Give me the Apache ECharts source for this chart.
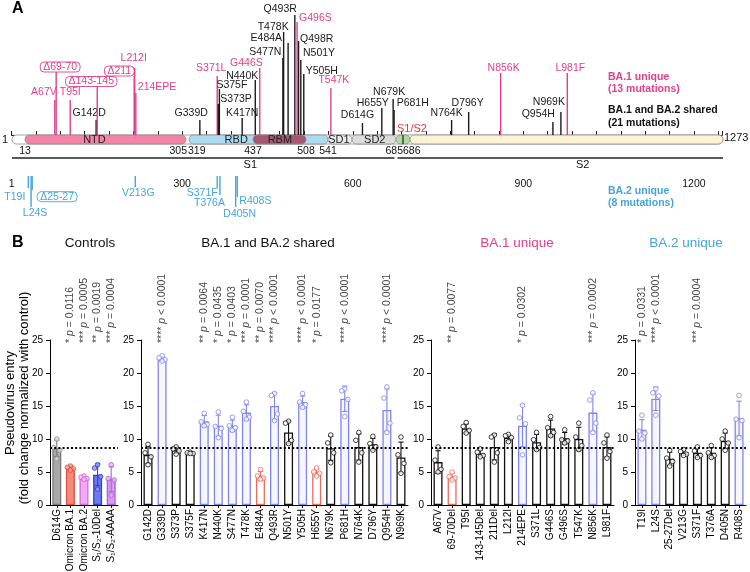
<!DOCTYPE html>
<html>
<head>
<meta charset="utf-8">
<title>Omicron spike mutations and pseudovirus entry</title>
<script src="https://cdn.jsdelivr.net/npm/echarts@6/dist/echarts.min.js"></script>
<style>
html,body{margin:0;padding:0;background:#fff;}
#chart{width:750px;height:572px;}
</style>
</head>
<body>
<div id="chart"></div>
<script>
// ================= DATA: Panel A (spike schematic) =================
const proteinLength = 1273;
const topMutNames = ['A67V','Δ69-70','T95I','G142D','Δ143-145','Δ211','L212I','214EPE','G339D','S371L','S373P','S375F','K417N','N440K','G446S','S477N','T478K','E484A','Q493R','G496S','Q498R','N501Y','Y505H','T547K','D614G','H655Y','N679K','P681H','N764K','D796Y','N856K','Q954H','N969K','L981F'];
const topMutResidue = [67,69.5,95,142,144,211,212,214,339,371,373,375,417,440,446,477,478,484,493,496,498,501,505,547,614,655,679,681,764,796,856,954,969,981];
const topMutGroup = ['BA1','BA1','BA1','shared','BA1','BA1','BA1','BA1','shared','BA1','shared','shared','shared','shared','BA1','shared','shared','shared','shared','BA1','shared','shared','shared','BA1','shared','shared','shared','shared','shared','shared','BA1','shared','shared','BA1'];
const ba2MutNames = ['T19I','L24S','Δ25-27','V213G','S371F','T376A','D405N','R408S'];
const ba2MutResidue = [19,24,26,213,371,376,405,408];
const domainNames = ['NTD','RBD','SD1','SD2','','','RBM'];
const domainStart = [13,319,541,592,685,686,437];
const domainEnd   = [305,541,592,685,686,1273,508];
const boundaryRes  = [13,305,319,437,508,541,685.5];
const boundaryText = ['13','305','319','437','508','541','685686'];
const subunitNames = ['S1','S2'];
const subunitStart = [1,685];
const subunitEnd   = [685,1273];
const rulerTickValues = [0,300,600,900,1200];
const rulerTickLabels = ['1','300','600','900','1200'];
const legendA = [['BA.1 unique','(13 mutations)'],['BA.1 and BA.2 shared','(21 mutations)'],['BA.2 unique','(8 mutations)']];

// ================= DATA: Panel B (pseudovirus entry) =================
const refLine = 8.6;
const ctrlCats = ['D614G','Omicron BA.1','Omicron BA.2','S₁/S₂-10Del','S₁/S₂-AAAA'];
const ctrlMean = [8.6,5.6,4.1,4.6,3.9];
const ctrlPoints = [[10.0,8.7,8.3,7.0],[5.9,5.7,5.5,5.3],[4.4,4.2,4.0,3.9],[6.1,5.6,4.3,2.4],[6.1,4.0,3.8,1.5]];
const ctrlP = ['','* p = 0.0116','*** p = 0.0005','** p = 0.0019','*** p = 0.0004'];

const sharedCats = ['G142D','G339D','S373P','S375F','K417N','N440K','S477N','T478K','E484A','Q493R','N501Y','Y505H','H655Y','N679K','P681H','N764K','D796Y','Q954H','N969K'];
const sharedType = ['k','b','k','k','b','b','b','b','r','b','k','b','r','k','b','k','k','b','k'];
const sharedMean = [7.6,22.1,8.3,7.9,12.7,12.0,12.0,14.0,4.4,15.0,11.0,15.6,5.0,8.6,16.1,8.8,9.2,14.4,7.2];
const sharedPoints = [[9.2,7.9,7.3,6.1],[22.6,22.3,22.0,21.8],[8.8,8.5,8.2,7.7],[8.0,7.9,7.8,7.8],[13.9,12.6,12.2,12.0],[14.1,11.9,11.6,10.2],[13.3,12.0,11.7,11.3],[15.6,14.2,13.3,13.0],[5.4,4.4,4.1,3.9],[16.9,16.6,13.8,12.8],[12.7,12.4,9.8,9.3],[16.9,15.6,15.2,14.8],[5.6,5.0,4.8,4.4],[10.6,9.4,7.9,6.4],[17.6,17.3,16.0,13.4],[11.0,9.8,7.9,6.5],[10.4,9.3,8.8,8.3],[17.9,16.2,12.4,11.0],[10.3,7.6,6.3,4.8]];
const sharedP = ['','**** p < 0.0001','','','** p = 0.0064','* p = 0.0435','* p = 0.0403','*** p = 0.0001','** p = 0.0070','**** p < 0.0001','','**** p < 0.0001','* p = 0.0177','','**** p < 0.0001','','','**** p < 0.0001',''];

const ba1Cats = ['A67V','69-70Del','T95I','143-145Del','211Del','L212I','214EPE','S371L','G446S','G496S','T547K','N856K','L981F'];
const ba1Type = ['k','r','k','k','k','k','b','k','k','k','k','b','k'];
const ba1Mean = [6.5,4.3,11.6,7.8,8.8,10.2,12.0,9.5,11.6,10.1,10.0,14.0,8.8];
const ba1Points = [[8.8,6.8,5.4,5.0],[5.0,4.3,4.1,3.8],[12.5,11.9,11.3,10.9],[8.5,8.0,7.5,7.3],[10.6,10.3,7.9,6.5],[10.7,10.5,10.2,9.6],[15.1,13.2,12.3,7.6],[11.0,9.9,8.7,8.4],[13.4,11.7,11.0,10.5],[11.4,9.9,9.7,9.4],[12.4,10.3,9.0,8.4],[17.0,15.9,12.4,11.0],[10.6,9.4,8.1,7.1]];
const ba1P = ['','** p = 0.0077','','','','','* p = 0.0302','','','','','*** p = 0.0002',''];

const ba2Cats = ['T19I','L24S','25-27Del','V213G','S371F','T376A','D405N','R408S'];
const ba2Type = ['b','b','k','k','k','k','k','b'];
const ba2Mean = [11.4,16.1,7.0,7.9,7.9,7.9,9.7,13.1];
const ba2Points = [[13.6,11.2,10.9,10.0],[17.6,17.0,16.5,13.6],[8.3,7.1,6.6,5.9],[8.4,8.1,7.7,7.5],[8.8,8.2,7.5,7.2],[9.0,7.9,7.5,7.2],[11.2,10.0,9.4,8.3],[16.6,13.0,12.8,10.2]];
const ba2P = ['* p = 0.0331','**** p < 0.0001','','','*** p = 0.0004','','',''];

const panelTitles = ['Controls','BA.1 and BA.2 shared','BA.1 unique','BA.2 unique'];

// ================= LAYOUT / STYLE (not data) =================
const FONT = '"Liberation Sans", Arial, Helvetica, sans-serif';
const PINK = '#E2408B', BLUE = '#45A5DC', RED = '#E8363B', BLACK = '#1a1a1a';
// schematic (non-linear) placement of residues along the ruler axis
const anchorRes = [1,13,305,319,437,508,541,685,686,1273];
const anchorPos = [0.7,23.6,306.7,312.0,424.6,517.8,556.5,676.0,700.7,1251.1];
function schem(r){
  for (let i = 0; i < anchorRes.length - 1; i++) {
    if (r <= anchorRes[i+1]) {
      const t = (r - anchorRes[i]) / (anchorRes[i+1] - anchorRes[i]);
      return anchorPos[i] + t * (anchorPos[i+1] - anchorPos[i]);
    }
  }
  return anchorPos[anchorPos.length-1];
}
const domainFill = ['#F384A8','#AEDAF0','#EDEDED','#DCDCDC','#AFDBA3','#FCF2D4','#A65872'];
const domainLabelAt = [139,406,564,640,null,null,473];
const boundaryAlign = ['center','right','left','center','center','center','center'];
const subunitLabelAt = [432,1010];
const topStem = [35,63,35,15,49,59,67,42,15,59,31,46,17,55,67,77,103,92,120,113,94,75,61,47,12,27,36,25,15,23,62,13,23,62];
const topLabelAlign = ['right','center','center','center','center','right','center','left','right','center','left','left','center','right','right','right','right','right','right','left','left','left','left','center','center','center','center','left','center','center','center','right','right','center'];
const topLabelDx = [2,4,0,-7,-6,0,-1,2,8,-6,2,-3,0,3,3,-1.5,5,-6,2,2,1.5,2.2,2,3,-5,-9,-4,2.6,-5,-1,3,2,4,3];
const topLabelDy = [-8,-5,-8,-7,-4.5,-5,-10,-6,-7,-8,-5,-4,-5,-4,-5,-6,-5,-5,-6,-4,-2,-7,-3,-8,-8,-5,-7,-7,-7,-9,-5,-8,-10,-5];
const ba2Depth = [12,31,14,11,12,19,31,21];
const ba2LabelAlign = ['right','center','left','center','center','right','center','left'];
const ba2LabelDx = [-3,4,5,3,-15,5,4,2];
const ba2LabelDy = [9,6.6,6.7,6,5.3,8.3,7.6,4];
const BAR_H = 9;       // thickness of the protein bar (y units of panel A = px)
const AXIS_V = -41;    // ruler position in panel A y units

const typeStyle = {
  k: {fill:'rgba(255,255,255,0)', line:'#111111', pt:'#ffffff', ptLine:'#111111'},
  b: {fill:'rgba(128,132,235,0.07)', line:'#8085EA', pt:'#ffffff', ptLine:'#8085EA'},
  r: {fill:'rgba(255,255,255,0)', line:'#EE6A5A', pt:'#ffffff', ptLine:'#EE6A5A'}
};
const ctrlStyle = [
  {fill:'#A9A9A9', line:'#7A7A7A', pt:'#DADADA', ptLine:'#8A8A8A'},
  {fill:'#F58A7C', line:'#E0513F', pt:'#F8A296', ptLine:'#D9473A'},
  {fill:'#F2A8F4', line:'#D76ADB', pt:'#F6C0F7', ptLine:'#D35FD9'},
  {fill:'#6D79EF', line:'#3641D2', pt:'#8D97F3', ptLine:'#2E3AD0'},
  {fill:'#D49CF1', line:'#B45FDB', pt:'#E2B8F5', ptLine:'#B35ADB'}
];
const jitter = [0,-3,3,0];
const gridB = [{left:50,width:68},{left:141,width:267},{left:431,width:183},{left:635,width:111}];
const B_TOP = 340, B_H = 165;

// ================= BUILD OPTION =================
const grids = [{left:11.6, width:710.75, top:0, height:176, containLabel:false, outerBoundsMode:'none'}];
const xAxes = [{
  gridIndex:0, type:'value', min:0, max:1250, interval:300/7, position:'bottom',
  axisLine:{show:true, lineStyle:{color:'#222', width:1}},
  axisTick:{show:true, inside:true, length:4, lineStyle:{color:'#222'}},
  axisLabel:{show:true, margin:3, fontSize:10.5, color:'#111', fontFamily:FONT,
    formatter: v => { for (let i=0;i<rulerTickValues.length;i++){ if (Math.abs(v-rulerTickValues[i])<1e-3) return rulerTickLabels[i]; } return ''; }},
  splitLine:{show:false}
}];
const yAxes = [{gridIndex:0, type:'value', min:-41, max:135, show:false}];
const series = [];

const txtFont = (s, w) => (w ? w + ' ' : '') + s + 'px ' + FONT;
function textEl(x, y, text, opts){
  return Object.assign({type:'text', x:x, y:y, style:Object.assign({text:text, fill:'#111', font:txtFont(10.5), align:'center', verticalAlign:'middle'}, opts||{})});
}

// protein backbone + domains
series.push({
  type:'custom', xAxisIndex:0, yAxisIndex:0, z:2, silent:true,
  data: [[schem(1), schem(proteinLength), -1]].concat(domainStart.map((s,i)=>[schem(s), schem(domainEnd[i]), i])),
  renderItem(params, api){
    const a = api.coord([api.value(0), 0]);
    const b = api.coord([api.value(1), -BAR_H]);
    const idx = api.value(2);
    const fill = idx < 0 ? '#ffffff' : domainFill[idx];
    return {type:'rect', shape:{x:a[0], y:a[1], width:b[0]-a[0], height:b[1]-a[1], r:(b[1]-a[1])/2},
      style:{fill:fill, stroke:'#8c8c8c', lineWidth:0.8}};
  }
});
// domain labels
series.push({
  type:'custom', xAxisIndex:0, yAxisIndex:0, z:3, silent:true,
  data: domainNames.map((n,i)=>[domainLabelAt[i]==null?0:schem(domainLabelAt[i]), i]).filter((d,i)=>domainNames[i]),
  renderItem(params, api){
    const p = api.coord([api.value(0), -BAR_H/2]);
    return textEl(p[0], p[1]+0.5, domainNames[api.value(1)], {font:txtFont(11), fill:'#222'});
  }
});
// S1/S2 cleavage mark
series.push({
  type:'custom', xAxisIndex:0, yAxisIndex:0, z:3, silent:true,
  data: [[schem(685.5)]],
  renderItem(params, api){
    const a = api.coord([api.value(0), 0]), b = api.coord([api.value(0), -BAR_H]);
    return {type:'line', shape:{x1:a[0],y1:a[1],x2:b[0],y2:b[1]}, style:{stroke:'#222', lineWidth:1.2}};
  }
});
// boundary numbers
series.push({
  type:'custom', xAxisIndex:0, yAxisIndex:0, z:3, silent:true,
  data: boundaryRes.map((r,i)=>[schem(r), i]),
  renderItem(params, api){
    const i = api.value(1);
    const p = api.coord([api.value(0), -16]);
    const dx = boundaryAlign[i]==='right' ? 1 : boundaryAlign[i]==='left' ? -1 : 0;
    return textEl(p[0]+dx, p[1], boundaryText[i], {align:boundaryAlign[i]});
  }
});
// subunit lines S1 / S2
series.push({
  type:'custom', xAxisIndex:0, yAxisIndex:0, z:3, silent:true,
  data: subunitStart.map((s,i)=>[schem(s), schem(subunitEnd[i]), schem(subunitLabelAt[i]), i]),
  renderItem(params, api){
    const i = api.value(3);
    const a = api.coord([api.value(0), -23]), b = api.coord([api.value(1), -23]);
    const l = api.coord([api.value(2), -29.5]);
    const x1 = i===0 ? a[0] : a[0]+1.5, x2 = i===0 ? b[0]-1.5 : b[0];
    return {type:'group', children:[
      {type:'line', shape:{x1:x1,y1:a[1],x2:x2,y2:b[1]}, style:{stroke:'#222', lineWidth:1.6}},
      textEl(l[0], l[1], subunitNames[i], {font:txtFont(11)})
    ]};
  }
});
// end labels and S1/S2 label
series.push({
  type:'custom', xAxisIndex:0, yAxisIndex:0, z:3, silent:true,
  data: [[schem(1), 0], [schem(proteinLength), 1], [schem(685), 2]],
  renderItem(params, api){
    const k = api.value(1);
    if (k === 0) { const p = api.coord([api.value(0), -BAR_H/2]); return textEl(p[0]-4, p[1], '1', {align:'right', font:txtFont(11)}); }
    if (k === 1) { const p = api.coord([api.value(0), -BAR_H/2+2]); return textEl(p[0]+1, p[1], String(proteinLength), {align:'left', font:txtFont(11)}); }
    const p = api.coord([api.value(0), 5.7]);
    return textEl(p[0]+1, p[1], 'S1/S2', {align:'left', fill:RED, font:txtFont(11)});
  }
});
// BA.1 unique + shared mutations (above the bar)
series.push({
  type:'custom', xAxisIndex:0, yAxisIndex:0, z:4, silent:true,
  data: topMutResidue.map((r,i)=>[schem(r), topStem[i], i]),
  renderItem(params, api){
    const i = api.value(2);
    const base = api.coord([api.value(0), 0]);
    const top = api.coord([api.value(0), api.value(1)]);
    const col = topMutGroup[i]==='BA1' ? PINK : BLACK;
    const boxed = topMutNames[i].charAt(0)==='Δ';
    const extra = boxed ? {borderColor:col, borderWidth:0.9, borderRadius:4, padding:[0,3,0,3], lineHeight:10} : {};
    return {type:'group', children:[
      {type:'line', shape:{x1:base[0], y1:base[1], x2:top[0], y2:top[1]}, style:{stroke:col, lineWidth:1.4}},
      textEl(top[0]+topLabelDx[i], top[1]+topLabelDy[i], topMutNames[i], Object.assign({fill:col, align:topLabelAlign[i]}, extra))
    ]};
  }
});
// BA.2 unique mutations (below the ruler)
series.push({
  type:'custom', xAxisIndex:0, yAxisIndex:0, z:4, silent:true,
  data: ba2MutResidue.map((r,i)=>[schem(r), ba2Depth[i], i]),
  renderItem(params, api){
    const i = api.value(2);
    const base = api.coord([api.value(0), AXIS_V]);
    const end = api.coord([api.value(0), AXIS_V - api.value(1)]);
    const boxed = ba2MutNames[i].charAt(0)==='Δ';
    const extra = boxed ? {borderColor:BLUE, borderWidth:0.9, borderRadius:4, padding:[0,3,0,3], lineHeight:10} : {};
    return {type:'group', children:[
      {type:'line', shape:{x1:base[0], y1:base[1], x2:end[0], y2:end[1]}, style:{stroke:BLUE, lineWidth:1.4}},
      textEl(end[0]+ba2LabelDx[i], end[1]+ba2LabelDy[i], ba2MutNames[i], Object.assign({fill:BLUE, align:ba2LabelAlign[i]}, extra))
    ]};
  }
});

// ---------- Panel B ----------
function sd(arr){ const m = arr.reduce((a,b)=>a+b,0)/arr.length; return Math.sqrt(arr.reduce((a,b)=>a+(b-m)*(b-m),0)/(arr.length-1)); }
function pRich(t){ const m = t.match(/^(\*+) p (.*)$/); return '{s|' + m[1] + '} {i|p} {n|' + m[2] + '}'; }

const panels = [
  {cats:ctrlCats, mean:ctrlMean, pts:ctrlPoints, p:ctrlP, sty:ctrlStyle},
  {cats:sharedCats, mean:sharedMean, pts:sharedPoints, p:sharedP, sty:sharedType.map(t=>typeStyle[t])},
  {cats:ba1Cats, mean:ba1Mean, pts:ba1Points, p:ba1P, sty:ba1Type.map(t=>typeStyle[t])},
  {cats:ba2Cats, mean:ba2Mean, pts:ba2Points, p:ba2P, sty:ba2Type.map(t=>typeStyle[t])}
];
panels.forEach((pn, k) => {
  const gi = k + 1;
  grids.push({left:gridB[k].left, width:gridB[k].width, top:B_TOP, height:B_H, containLabel:false, outerBoundsMode:'none'});
  xAxes.push({gridIndex:gi, type:'category', data:pn.cats, boundaryGap:true,
    axisLine:{show:true, lineStyle:{color:'#000', width:1}},
    axisTick:{show:true, alignWithLabel:true, length:3, lineStyle:{color:'#000'}},
    axisLabel:{interval:0, rotate:90, fontSize:10, margin:4, color:'#000', fontFamily:FONT},
    splitLine:{show:false}});
  yAxes.push({gridIndex:gi, type:'value', min:0, max:25, interval:5,
    axisLine:{show:true, lineStyle:{color:'#000', width:1}},
    axisTick:{show:true, length:4, lineStyle:{color:'#000'}},
    axisLabel:{fontSize:10, margin:7, color:'#000', fontFamily:FONT},
    splitLine:{show:false}});
  // dotted reference line (D614G level)
  series.push({type:'line', xAxisIndex:gi, yAxisIndex:gi, data:[], z:1, silent:true, symbol:'none',
    markLine:{silent:true, symbol:['none','none'], label:{show:false}, animation:false,
      lineStyle:{type:[2,2.2], color:'#000', width:1.8}, data:[{yAxis:refLine}]}});
  // bars (mean)
  series.push({type:'bar', xAxisIndex:gi, yAxisIndex:gi, barWidth:9, z:2, silent:true,
    data: pn.mean.map((m,i)=>({value:m, itemStyle:{color:pn.sty[i].fill, borderColor:pn.sty[i].line, borderWidth:1.3}}))});
  // error bars (mean ± SD of the replicates)
  series.push({type:'custom', xAxisIndex:gi, yAxisIndex:gi, z:3, silent:true,
    data: pn.mean.map((m,i)=>{ const s = sd(pn.pts[i]); return [i, m - s, m + s]; }),
    renderItem(params, api){
      const lo = api.coord([api.value(0), api.value(1)]);
      const hi = api.coord([api.value(0), api.value(2)]);
      const col = pn.sty[params.dataIndex].line;
      const w = 2.6;
      const st = {stroke:col, lineWidth:1.1};
      return {type:'group', children:[
        {type:'line', shape:{x1:lo[0],y1:lo[1],x2:hi[0],y2:hi[1]}, style:st},
        {type:'line', shape:{x1:lo[0]-w,y1:lo[1],x2:lo[0]+w,y2:lo[1]}, style:st},
        {type:'line', shape:{x1:hi[0]-w,y1:hi[1],x2:hi[0]+w,y2:hi[1]}, style:st}
      ]};
    }});
  // replicate points
  const ptData = [];
  pn.pts.forEach((arr,i)=>arr.forEach((v,j)=>ptData.push({value:[i,v], symbolOffset:[jitter[j%jitter.length],0],
    itemStyle:{color:pn.sty[i].pt, borderColor:pn.sty[i].ptLine, borderWidth:1}})));
  series.push({type:'scatter', xAxisIndex:gi, yAxisIndex:gi, symbol:'circle', symbolSize:4.6, z:4, silent:true, data:ptData});
  // p-value annotations
  const pData = [];
  pn.p.forEach((t,i)=>{ if (t) pData.push({value:[i, 24.55], txt:t}); });
  series.push({type:'scatter', xAxisIndex:gi, yAxisIndex:gi, symbolSize:0, z:5, silent:true, data:pData,
    label:{show:true, position:'inside', rotate:90, align:'left', verticalAlign:'middle', color:'#111', fontFamily:FONT, fontSize:10.5,
      formatter: prm => pRich(prm.data.txt),
      rich:{s:{fontSize:10.5, color:'#111', fontFamily:FONT}, i:{fontSize:10.5, fontStyle:'italic', color:'#111', fontFamily:FONT}, n:{fontSize:10.5, color:'#111', fontFamily:FONT}}}});
});

// ---------- free text (panel letters, titles, legend, axis title) ----------
const titleX = [90, 268, 517, 686];
const titleY = 243;
const titleCol = ['#111','#111',PINK,BLUE];
const graphic = [
  {type:'text', x:12, y:9, style:{text:'A', font:'bold 16px ' + FONT, fill:'#000', align:'left', verticalAlign:'middle', textAlign:'left', textVerticalAlign:'middle'}},
  {type:'text', x:12, y:titleY, style:{text:'B', font:'bold 16px ' + FONT, fill:'#000', align:'left', verticalAlign:'middle', textAlign:'left', textVerticalAlign:'middle'}},
  {type:'text', x:10, y:403, rotation:Math.PI/2, style:{text:'Pseudovirus entry', font:'13px ' + FONT, fill:'#000', align:'center', verticalAlign:'middle', textAlign:'center', textVerticalAlign:'middle'}},
  {type:'text', x:24, y:398, rotation:Math.PI/2, style:{text:'(fold change normalized with control)', font:'13px ' + FONT, fill:'#000', align:'center', verticalAlign:'middle', textAlign:'center', textVerticalAlign:'middle'}}
];
panelTitles.forEach((t,i)=>graphic.push({type:'text', x:titleX[i], y:titleY, style:{text:t, font:'13.5px ' + FONT, fill:titleCol[i], align:'center', verticalAlign:'middle', textAlign:'center', textVerticalAlign:'middle'}}));
const legendY = [[76.7,89.3],[110,123.3],[190.7,203.3]];
const legendCol = [PINK, '#111', BLUE];
legendA.forEach((pair,i)=>pair.forEach((t,j)=>graphic.push({type:'text', x:608, y:legendY[i][j],
  style:{text:t, font:'bold 10.5px ' + FONT, fill:legendCol[i], align:'left', verticalAlign:'middle', textAlign:'left', textVerticalAlign:'middle'}})));

const option = {
  animation:false,
  backgroundColor:'#ffffff',
  textStyle:{fontFamily:FONT},
  grid:grids, xAxis:xAxes, yAxis:yAxes, series:series, graphic:graphic
};
const chart = echarts.init(document.getElementById('chart'), null, {renderer:'canvas', width:750, height:572});
chart.setOption(option);
</script>
</body>
</html>
